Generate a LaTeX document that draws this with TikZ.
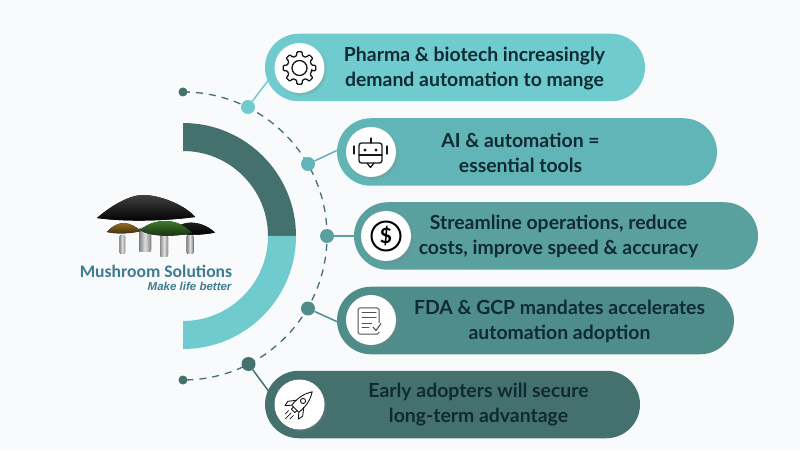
\documentclass[tikz,border=0pt]{standalone}
\usepackage{fontspec}
\setmainfont{Lato}
\newfontfamily\logofont{Carlito}
\newfontfamily\sloganfont{Liberation Sans}
\usetikzlibrary{shapes.misc,shadows,positioning}
\definecolor{paper}{HTML}{F9FAFC}
\definecolor{tealA}{HTML}{6FCBCD}
\definecolor{tealB}{HTML}{62B5B7}
\definecolor{tealC}{HTML}{5AA09F}
\definecolor{tealD}{HTML}{4F8D8B}
\definecolor{tealE}{HTML}{44706E}
\definecolor{inktext}{HTML}{0F2A33}
\definecolor{logotext}{HTML}{3F7C92}
\definecolor{iconline}{HTML}{15191C}
\definecolor{capbrown}{HTML}{8F6A1E}
\definecolor{capgreen}{HTML}{3F7A2E}
\tikzset{
  pill/.style={rounded rectangle, minimum height=67.5pt, inner sep=0pt, fill=#1},
  iconcircle/.style={circle, fill=white, minimum size=50pt, inner sep=0pt,
    circular drop shadow={shadow xshift=1.5pt, shadow yshift=-1.5pt, shadow scale=1.06, opacity=.35}},
  pilltext/.style={align=center, text=inktext, font=\bfseries\fontsize{19.4}{25}\selectfont},
  bigdot/.style={circle, fill=#1, minimum size=14pt, inner sep=0pt},
  enddot/.style={circle, fill=tealE, minimum size=9pt, inner sep=0pt},
  stub/.style={draw=#1, line width=1.5pt},
  icon/.style={draw=iconline, line width=1.3pt, line join=round, line cap=round},
  stem/.style={left color=#1, right color=#1, middle color=gray!25, rounded corners=2pt}
}
\begin{document}
\begin{tikzpicture}[x=1pt,y=1pt]
\useasboundingbox (0,0) rectangle (800,450);
\fill[paper] (0,0) rectangle (800,450);

\fill[tealE] (183,327) arc (90:0:113pt) -- (268,214) arc (0:90:85pt) -- cycle;
\fill[tealA] (296,214) arc (0:-90:113pt) -- (183,129) arc (-90:0:85pt) -- cycle;

\coordinate (arcstart) at (183,358);
\draw[tealE, line width=1.3pt, dash pattern=on 7pt off 6pt] (arcstart) arc (90:-90:144pt);
\node[enddot] (endtop) at (arcstart) {};
\node[enddot] (endbottom) at (183,70) {};

\node[bigdot=tealA] (dot1) at (248,343) {};
\node[bigdot=tealB] (dot2) at (308,286) {};
\node[bigdot=tealC] (dot3) at (327,214) {};
\node[bigdot=tealD] (dot4) at (308,141.5) {};
\node[bigdot=tealE] (dot5) at (248.5,86) {};

\coordinate (tip1) at (270,372);
\coordinate (tip2) at (340,301);
\coordinate (tip3) at (358,214);
\coordinate (tip4) at (340,127);
\coordinate (tip5) at (270,57);
\draw[stub=tealA] (dot1) -- (tip1);
\draw[stub=tealB] (dot2) -- (tip2);
\draw[stub=tealC] (dot3) -- (tip3);
\draw[stub=tealD] (dot4) -- (tip4);
\draw[stub=tealE] (dot5) -- (tip5);

\node[pill=tealA, minimum width=380pt] (pill1) at (455,382.5) {};
\node[pill=tealB, minimum width=380pt] (pill2) at (527,298) {};
\node[pill=tealC, minimum width=404pt] (pill3) at (556,214) {};
\node[pill=tealD, minimum width=397pt] (pill4) at (535.5,129.5) {};
\node[pill=tealE, minimum width=375pt] (pill5) at (452.5,45.5) {};

\node[iconcircle] (icon1) at (299.5,382) {};
\node[iconcircle] (icon2) at (371,298) {};
\node[iconcircle] (icon3) at (386,214) {};
\node[iconcircle] (icon4) at (371,130) {};
\node[iconcircle] (icon5) at (299.5,45.5) {};

\node[pilltext] (text1) at (474.5,381.5) {Pharma \& biotech increasingly\\demand automation to mange};
\node[pilltext] (text2) at (520.5,297.5) {AI \& automation =\\essential tools};
\node[pilltext] (text3) at (558.5,213.5) {Streamline operations, reduce\\costs, improve speed \& accuracy};
\node[pilltext] (text4) at (559.5,129) {FDA \& GCP mandates accelerates\\automation adoption};
\node[pilltext] (text5) at (478.5,45) {Early adopters will secure\\long-term advantage};

% gear
\begin{scope}[shift={(icon1.center)}]
\draw[icon, rounded corners=1pt] (-13:12.5)
  \foreach \a in {0,45,...,315} { -- ({\a-13}:12.5) -- ({\a-9}:16.5) -- ({\a+9}:16.5) -- ({\a+13}:12.5) } -- cycle;
\draw[icon] (0,0) circle (7.5pt);
\end{scope}

% robot
\begin{scope}[shift={(icon2.center)}]
\draw[icon, rounded corners=2.5pt] (-12,9) rectangle (11,-11);
\draw[icon] (-12,-3) -- (11,-3);
\draw[icon] (0,9) -- (0,14);
\fill[iconline] (-6,2) circle (1.6pt) (5,2) circle (1.6pt);
\draw[icon] (-4,-11) -- (-.5,-15.5) -- (3,-11);
\draw[icon] (-17,6) -- (-17,-2) (16,6) -- (16,-2);
\end{scope}

% dollar
\begin{scope}[shift={(icon3.center)}]
\node[circle, draw=black, line width=2pt, minimum size=29pt, inner sep=0pt, font=\bfseries\fontsize{21}{21}\selectfont] (dollar) {\$};
\end{scope}

% document
\begin{scope}[shift={(icon4.center)}]
\draw[icon, draw=iconline!75, line width=1pt, rounded corners=1.5pt] (-13,12) rectangle (8,-14);
\draw[icon, draw=iconline!75, line width=1pt] (-9,7) -- (5,7) (-9,2) -- (5,2) (-9,-3) -- (5,-3) (-9,-7) -- (-2,-7);
\fill[white] (1,-12) rectangle (10,-3);
\draw[icon, draw=iconline!75, line width=1.1pt] (2,-7) -- (5,-10.5) -- (10,-3.5);
\end{scope}

% rocket
\begin{scope}[shift={(icon5.center)}, rotate=-45]
\draw[icon, line width=.9pt] (-5,-6) .. controls (-6.5,6) and (-3,13) .. (0,18) .. controls (3,13) and (6.5,6) .. (5,-6) -- cycle;
\draw[icon, line width=.9pt] (0,5) circle (2.6pt);
\draw[icon, line width=.9pt] (-5,1) -- (-10.5,-6) -- (-9.5,-11) -- (-5,-6);
\draw[icon, line width=.9pt] (5,1) -- (10.5,-6) -- (9.5,-11) -- (5,-6);
\draw[icon, line width=.9pt] (-2.5,-6) -- (-2.5,-9) -- (2.5,-9) -- (2.5,-6);
\draw[icon, line width=.7pt] (0,-12) -- (0,-20) (-3.5,-12) -- (-3.5,-17) (3.5,-12) -- (3.5,-17);
\end{scope}

% logo
\fill[stem=gray!90] (119.5,196) rectangle (125,215);
\fill[stem=gray] (139,198) rectangle (151,222);
\fill[stem=gray!90] (160,193) rectangle (168,215);
\fill[stem=gray] (186.5,196) rectangle (193.5,215);
\fill[top color=black!85, bottom color=black] (172,218) .. controls (180,230) and (200,231) .. (215,217.5) .. controls (205,215) and (185,214) .. (172,218) -- cycle;
\fill[top color=black!75, bottom color=black] (97,232) .. controls (112,245) and (130,255) .. (143,255) .. controls (160,255) and (185,245) .. (195,233) .. controls (165,229) and (125,228) .. (97,232) -- cycle;
\fill[top color=capbrown, bottom color=capbrown!45!black] (107,218) .. controls (112,224) and (118,227) .. (124,227) .. controls (130,227) and (138,222) .. (141,219) .. controls (130,216) and (115,216) .. (107,218) -- cycle;
\fill[top color=capgreen, bottom color=capgreen!35!black] (140,220) .. controls (148,226) and (155,229) .. (166,229) .. controls (178,229) and (188,222) .. (192,217) .. controls (175,213) and (150,213) .. (140,220) -- cycle;

\node[text=logotext, font=\logofont\bfseries\fontsize{17.6}{18}\selectfont] (logoname) at (156,179) {Mushroom Solutions};
\node[text=logotext, font=\sloganfont\bfseries\itshape\fontsize{11.5}{12}\selectfont, anchor=east] (logoslogan) at (235,163.5) {Make life better};
\end{tikzpicture}
\end{document}
